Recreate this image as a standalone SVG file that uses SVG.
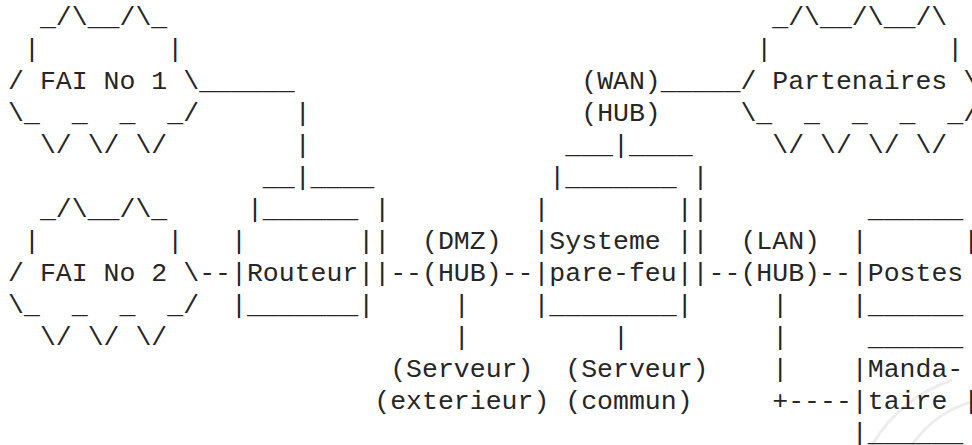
<svg xmlns="http://www.w3.org/2000/svg" width="972" height="445" viewBox="0 0 972 445">
  <style>
    text { font-family: "Liberation Mono", "Courier New", monospace; font-size: 26.53px; fill: #262626; white-space: pre; }
    .mark { fill: none; stroke: #ededed; stroke-width: 3; }
  </style>
  <!-- grid: column c at x = 8.1 + 15.92*c, row r baseline at y = 25 + 32*r -->
  <rect width="972" height="445" fill="#ffffff"/>

  <!-- faint background mark, lower right -->
  <path class="mark" d="M 872 445 Q 900 398 952 380"/>
  <path class="mark" d="M 912 445 Q 935 412 972 402"/>

  <g id="fai1" transform="translate(8.1,0)">
    <text xml:space="preserve" y="25">  _/\__/\_</text>
    <text xml:space="preserve" y="57"> |        |</text>
    <text xml:space="preserve" y="89">/ FAI No 1 \</text>
    <text xml:space="preserve" y="121">\_  _  _  _/</text>
    <text xml:space="preserve" y="153">  \/ \/ \/</text>
  </g>

  <g id="fai2" transform="translate(8.1,0)">
    <text xml:space="preserve" y="217">  _/\__/\_</text>
    <text xml:space="preserve" y="249"> |        |</text>
    <text xml:space="preserve" y="281">/ FAI No 2 \</text>
    <text xml:space="preserve" y="313">\_  _  _  _/</text>
    <text xml:space="preserve" y="345">  \/ \/ \/</text>
  </g>

  <g id="partenaires" transform="translate(740.42,0)">
    <text xml:space="preserve" y="25">  _/\__/\__/\</text>
    <text xml:space="preserve" y="57"> |           |</text>
    <text xml:space="preserve" y="89">/ Partenaires \</text>
    <text xml:space="preserve" y="121">\_  _  _  _  _/</text>
    <text xml:space="preserve" y="153">  \/ \/ \/ \/</text>
  </g>

  <g id="hub-wan" transform="translate(581.22,0)">
    <text y="89">(WAN)</text>
    <text y="121">(HUB)</text>
  </g>

  <g id="routeur" transform="translate(230.98,0)">
    <text x="31.84" y="185">__</text>
    <text x="79.6" y="185">____</text>
    <text xml:space="preserve" y="217"> |______ |</text>
    <text xml:space="preserve" y="249">|       ||</text>
    <text y="281">|Routeur||</text>
    <text y="313">|_______|</text>
  </g>

  <g id="pare-feu" transform="translate(533.46,0)">
    <text x="31.84" y="153">___</text>
    <text x="95.52" y="153">____</text>
    <text xml:space="preserve" y="185"> |_______ |</text>
    <text xml:space="preserve" y="217">|        ||</text>
    <text xml:space="preserve" y="249">|Systeme ||</text>
    <text y="281">|pare-feu||</text>
    <text y="313">|________|</text>
  </g>

  <g id="hub-dmz" transform="translate(422.02,0)">
    <text y="249">(DMZ)</text>
    <text y="281">(HUB)</text>
  </g>

  <g id="hub-lan" transform="translate(740.42,0)">
    <text y="249">(LAN)</text>
    <text y="281">(HUB)</text>
  </g>

  <g id="serveur-exterieur" transform="translate(374.26,0)">
    <text x="15.92" y="377">(Serveur)</text>
    <text y="409">(exterieur)</text>
  </g>

  <g id="serveur-commun" transform="translate(565.3,0)">
    <text y="377">(Serveur)</text>
    <text y="409">(commun)</text>
  </g>

  <g id="postes" transform="translate(851.86,0)">
    <text x="15.92" y="217">______</text>
    <text xml:space="preserve" y="249">|      |</text>
    <text y="281">|Postes</text>
    <text y="313">|______</text>
  </g>

  <g id="mandataire" transform="translate(851.86,0)">
    <text x="15.92" y="345">______</text>
    <text y="377">|Manda-</text>
    <text xml:space="preserve" y="409">|taire |</text>
    <text y="441">|______</text>
  </g>

  <g id="connectors">
    <!-- FAI No 1 to Routeur -->
    <text x="199.14" y="89">______</text>
    <text x="294.66" y="121">|</text>
    <text x="294.66" y="153">|</text>
    <text x="294.66" y="185">|</text>
    <!-- WAN hub to Partenaires and pare-feu -->
    <text x="660.82" y="89">_____</text>
    <text x="613.06" y="153">|</text>
    <!-- main line -->
    <text x="199.14" y="281">--</text>
    <text x="390.18" y="281">--</text>
    <text x="501.62" y="281">--</text>
    <text x="708.58" y="281">--</text>
    <text x="819.02" y="281">--</text>
    <!-- DMZ hub to serveur exterieur -->
    <text x="453.86" y="313">|</text>
    <text x="453.86" y="345">|</text>
    <!-- pare-feu to serveur commun -->
    <text x="613.06" y="345">|</text>
    <!-- LAN hub to mandataire -->
    <text x="772.26" y="313">|</text>
    <text x="772.26" y="345">|</text>
    <text x="772.26" y="377">|</text>
    <text x="772.26" y="409">+----</text>
  </g>
</svg>
